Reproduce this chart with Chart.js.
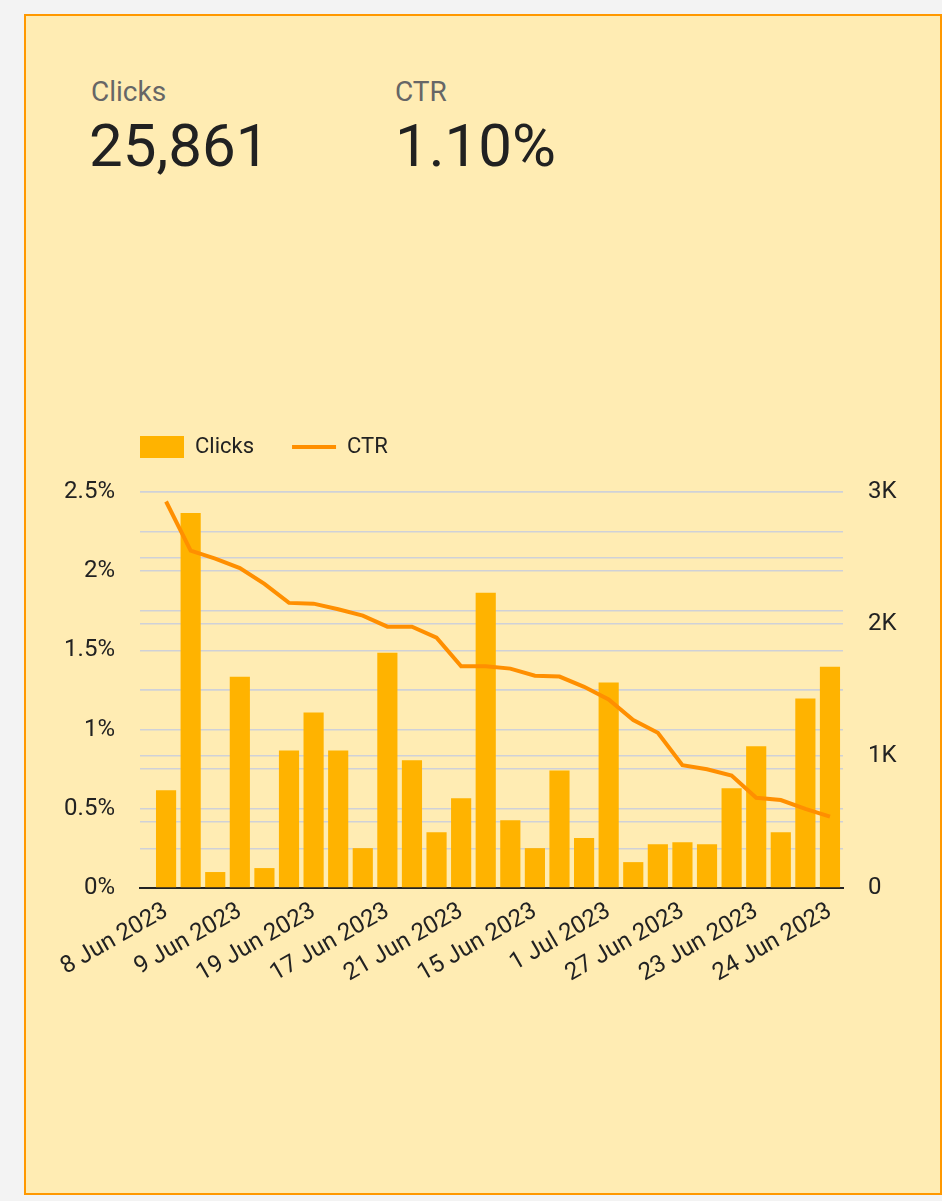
<!DOCTYPE html>
<html>
<head>
<meta charset="utf-8">
<script src="https://cdn.jsdelivr.net/npm/chart.js@4.4.0/dist/chart.umd.min.js"></script>
<style>
  body { margin: 0; background: #f3f3f3; font-family: Roboto, sans-serif; }
  .card { position: absolute; left: 24px; top: 14px; width: 918px; height: 1181px; box-sizing: border-box;
          background: #ffecb3; border: 2px solid #ff9800; }
  .kpi-label { position: absolute; font-size: 28px; line-height: 1; color: #666; }
  .kpi-value { position: absolute; font-size: 60px; line-height: 1; color: #212121; }
  .chart-box { position: absolute; left: 40px; top: 398px; width: 880px; height: 610px; }
</style>
</head>
<body>
<div class="card"></div>
<div class="kpi-label" style="left:91px; top:78px;">Clicks</div>
<div class="kpi-value" style="left:89px; top:116px;">25,861</div>
<div class="kpi-label" style="left:395px; top:78px;">CTR</div>
<div class="kpi-value" style="left:395px; top:116px;">1.10%</div>
<div class="chart-box"><canvas id="clicksCtrChart"></canvas></div>
<script>
// dates shown on the x axis (one every 3 bars)
var tickDates = ['8 Jun 2023', '9 Jun 2023', '19 Jun 2023', '17 Jun 2023', '21 Jun 2023',
                 '15 Jun 2023', '1 Jul 2023', '27 Jun 2023', '23 Jun 2023', '24 Jun 2023'];
var tickEvery = 3;

// Clicks per day (right axis)
var clicks = [740, 2840, 121, 1601, 151, 1042, 1329, 1042, 302, 1782, 967, 423, 680, 2236,
              514, 302, 891, 378, 1556, 196, 332, 347, 332, 755, 1073, 423, 1435, 1677];

// CTR in % (left axis)
var ctr = [2.44, 2.13, 2.08, 2.02, 1.92, 1.80, 1.795, 1.76, 1.72, 1.65, 1.65, 1.58, 1.40, 1.40,
           1.385, 1.34, 1.335, 1.27, 1.19, 1.06, 0.98, 0.775, 0.75, 0.71, 0.57, 0.555, 0.50, 0.45];

Chart.defaults.font.family = 'Roboto';
Chart.defaults.font.size = 22;
Chart.defaults.color = '#222';

var tickFont = { size: 24 };

// legend sits above the plot, starting at its left edge
var legendShift = {
    id: 'legendShift',
    afterLayout: function(chart) {
        var lg = chart.legend;
        var dx = chart.chartArea.left - lg.options.labels.padding - lg.left;
        var dy = -24;
        lg.left += dx;
        lg.right += dx;
        lg.top += dy;
        lg.bottom += dy;
    }
};

var ctx = document.getElementById('clicksCtrChart').getContext('2d');
var chart = new Chart(ctx, {
    data: {
        datasets: [{
            type: 'bar',
            label: 'Clicks',
            data: clicks.map(function(v, i) { return {x: i, y: v}; }),
            yAxisID: 'y1',
            backgroundColor: '#ffb300',
            pointStyle: 'rect',
            categoryPercentage: 0.82,
            barPercentage: 1,
            order: 1
        }, {
            type: 'line',
            label: 'CTR',
            data: ctr.map(function(v, i) { return {x: i, y: v}; }),
            yAxisID: 'y',
            borderColor: '#ff8f00',
            backgroundColor: '#ff8f00',
            borderWidth: 4,
            pointRadius: 0,
            pointStyle: 'line',
            tension: 0,
            order: 0
        }]
    },
    options: {
        responsive: true,
        maintainAspectRatio: false,
        animation: false,
        layout: { padding: { top: 24 } },
        plugins: {
            legend: {
                position: 'top',
                align: 'start',
                labels: {
                    usePointStyle: true,
                    pointStyleWidth: 44,
                    padding: 38,
                    color: '#222',
                    sort: function(a, b) { return a.datasetIndex - b.datasetIndex; }
                }
            },
            tooltip: { enabled: true }
        },
        scales: {
            x: {
                type: 'linear',
                offset: false,
                min: -1.06,
                max: 27.53,
                grid: { display: false, drawTicks: false },
                border: { display: true, color: '#222', width: 2 },
                afterBuildTicks: function(axis) {
                    axis.ticks = tickDates.map(function(d, k) { return {value: k * tickEvery}; });
                },
                afterFit: function(axis) { axis.height = 120; },
                ticks: {
                    font: tickFont,
                    autoSkip: false,
                    minRotation: 30,
                    maxRotation: 30,
                    padding: 9,
                    callback: function(value) { return tickDates[Math.round(value / tickEvery)]; }
                }
            },
            y: {
                position: 'left',
                min: 0,
                max: 2.5,
                grid: { color: '#cfd1d8', lineWidth: 1.5, drawTicks: false },
                border: { display: false },
                afterFit: function(axis) { axis.width = 100; },
                ticks: {
                    font: tickFont,
                    stepSize: 0.25,
                    autoSkip: false,
                    padding: 25,
                    callback: function(v) { return Math.round(v * 100) % 50 === 0 ? v + '%' : ''; }
                }
            },
            y1: {
                position: 'right',
                min: 0,
                max: 3000,
                grid: { color: '#cfd1d8', lineWidth: 1.5, drawTicks: false },
                border: { display: false },
                afterFit: function(axis) { axis.width = 77; },
                ticks: {
                    font: tickFont,
                    stepSize: 500,
                    autoSkip: false,
                    padding: 25,
                    callback: function(v) {
                        if (v % 1000 !== 0) return '';
                        return v === 0 ? '0' : (v / 1000) + 'K';
                    }
                }
            }
        }
    },
    plugins: [legendShift]
});
</script>
</body>
</html>
